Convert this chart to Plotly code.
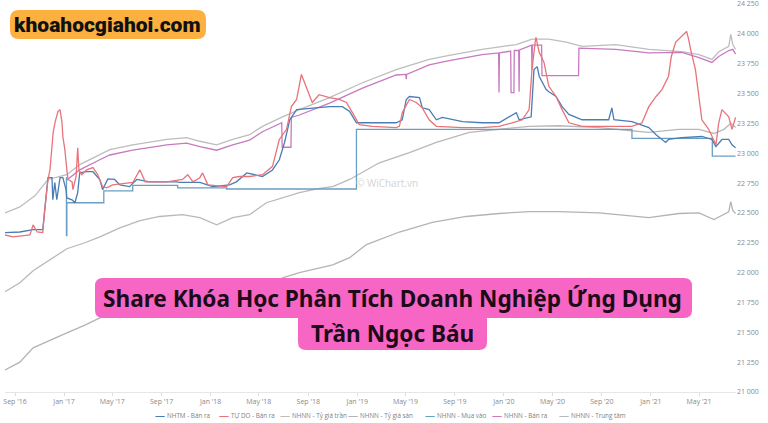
import plotly.graph_objects as go

# ---------------- data ----------------
ceil_dates = ["2016-08-07","2016-09-13","2016-10-21","2016-11-22","2016-12-22","2017-01-08","2017-02-09","2017-03-31",
              "2017-04-25","2017-06-21","2017-09-14","2017-11-02","2017-12-05","2018-01-16","2018-02-25","2018-04-08",
              "2018-05-10","2018-06-29","2018-08-10","2018-10-24","2019-01-14","2019-04-08","2019-06-29","2019-08-18",
              "2019-11-08","2020-02-01","2020-03-11","2020-04-22","2020-06-04","2020-07-14","2020-10-06","2020-12-27",
              "2021-03-19","2021-05-01","2021-06-02","2021-06-19","2021-07-14","2021-07-19","2021-07-24","2021-07-31"]
ceil_vals = [22500,22550,22645,22780,22805,22820,22905,22990,
             23030,23070,23115,23130,23100,23070,23115,23155,
             23225,23305,23365,23465,23590,23700,23785,23820,
             23870,23910,23955,23955,23930,23895,23910,23870,
             23850,23825,23785,23850,23895,23995,23910,23870]

central_dates = ["2016-08-07","2016-09-13","2016-10-16","2016-11-27","2017-01-08","2017-02-22","2017-03-31","2017-05-20",
                 "2017-07-09","2017-08-27","2017-10-23","2017-12-05","2018-01-16","2018-02-25","2018-04-08","2018-05-20",
                 "2018-07-04","2018-08-10","2018-09-29","2018-11-01","2018-12-13","2019-02-25","2019-05-11","2019-07-17",
                 "2019-10-07","2019-12-20","2020-03-04","2020-05-17","2020-08-25","2020-11-07","2020-12-27","2021-03-12",
                 "2021-05-01","2021-06-07","2021-07-02","2021-07-19","2021-07-31"]
central_vals = [21840,21915,22015,22105,22200,22250,22300,22375,
                22435,22470,22485,22460,22400,22460,22485,22585,
                22635,22670,22705,22720,22780,22920,23005,23090,
                23175,23200,23225,23230,23215,23190,23175,23200,
                23200,23165,23200,23250,23215]

floor_dates = ["2016-08-07","2016-09-13","2016-10-16","2016-11-27","2017-01-08","2017-02-22","2017-03-31","2017-05-20",
               "2017-07-09","2017-08-27","2017-10-23","2017-12-05","2018-01-16","2018-02-25","2018-04-08","2018-05-20",
               "2018-06-29","2018-08-10","2018-11-01","2018-12-13","2019-01-24","2019-04-16","2019-07-07","2019-09-29",
               "2019-12-20","2020-03-04","2020-05-17","2020-08-25","2020-11-07","2020-12-27","2021-03-12","2021-05-01",
               "2021-06-07","2021-07-02","2021-07-14","2021-07-19","2021-07-24","2021-07-31"]
floor_vals = [21185,21250,21370,21435,21495,21560,21620,21680,
              21730,21755,21770,21755,21730,21770,21815,21880,
              21955,22000,22065,22125,22235,22340,22420,22470,
              22495,22510,22510,22500,22475,22460,22495,22500,
              22445,22485,22510,22595,22520,22495]

sbv_sell_dates = ["2017-01-08","2017-02-09","2017-03-31","2017-04-25","2017-06-21","2017-09-14","2017-11-02","2017-12-05",
                  "2018-01-16","2018-02-25","2018-04-08","2018-05-10","2018-06-27","2018-06-28","2018-07-20","2018-07-21",
                  "2018-08-10","2018-10-24","2019-01-14","2019-04-08","2019-05-02","2019-05-03","2019-05-04","2019-06-29",
                  "2019-08-18","2019-11-08","2019-12-19","2019-12-20","2019-12-21","2020-01-18","2020-01-19","2020-01-26",
                  "2020-01-27","2020-02-07","2020-02-08","2020-02-09","2020-03-10","2020-03-11","2020-03-12","2020-04-04",
                  "2020-04-05","2020-07-05","2020-07-06","2020-10-06","2020-12-27","2021-03-19","2021-05-01","2021-06-02",
                  "2021-06-19","2021-07-14","2021-07-24","2021-07-31"]
sbv_sell_vals = [22775,22860,22945,22985,23025,23070,23085,23055,
                 23025,23070,23110,23180,23255,23050,23050,23300,
                 23320,23420,23545,23655,23660,23620,23660,23740,
                 23775,23825,23840,23508,23840,23855,23508,23508,
                 23860,23860,23515,23865,23905,23700,23905,23905,
                 23650,23650,23880,23870,23840,23845,23800,23760,
                 23810,23860,23870,23830]

sbv_buy_dates = ["2017-01-06","2017-01-07","2017-01-08","2017-04-10","2017-06-21","2017-10-11","2018-02-10",
                 "2018-12-30","2020-11-15","2021-06-03","2021-07-31"]
sbv_buy_vals = [22795,22310,22585,22685,22730,22710,22700,
                23200,23125,22975,22975]

bank_dates = ["2016-08-07","2016-09-13","2016-10-16","2016-11-09","2016-11-19","2016-11-22","2016-12-02","2016-12-04",
              "2016-12-09","2016-12-14","2016-12-22","2016-12-29","2017-01-06","2017-01-08","2017-01-21","2017-01-28",
              "2017-02-04","2017-02-09","2017-02-26","2017-03-14","2017-03-31","2017-04-07","2017-04-20","2017-05-07",
              "2017-05-20","2017-06-13","2017-07-01","2017-08-02","2017-10-08","2017-10-16","2017-12-05","2018-01-06",
              "2018-02-17","2018-03-06","2018-04-01","2018-05-10","2018-06-04","2018-06-21","2018-07-04","2018-07-17",
              "2018-08-03","2018-09-21","2018-10-24","2018-11-25","2018-12-13","2018-12-30","2019-01-14","2019-04-08",
              "2019-04-23","2019-05-03","2019-05-11","2019-06-05","2019-06-12","2019-06-29","2019-07-17","2019-08-01",
              "2019-09-20","2019-11-08","2019-12-20","2020-02-01","2020-02-08","2020-03-09","2020-03-16","2020-03-24",
              "2020-03-29","2020-04-15","2020-04-22","2020-05-10","2020-05-25","2020-06-11","2020-07-14","2020-09-18",
              "2020-09-26","2020-10-01","2020-11-15","2020-12-27","2021-01-14","2021-02-07","2021-02-14","2021-03-19",
              "2021-05-08","2021-06-02","2021-06-12","2021-06-27","2021-07-14","2021-07-22","2021-07-31"]
bank_vals = [22335,22340,22360,22360,22695,22795,22795,22610,
             22755,22610,22795,22795,22695,22625,22610,22585,
             22670,22835,22845,22845,22780,22695,22785,22780,
             22735,22720,22780,22760,22760,22755,22755,22720,
             22735,22760,22835,22805,22860,22945,23090,23280,
             23365,23380,23390,23390,23350,23255,23255,23255,
             23280,23450,23475,23465,23380,23365,23280,23300,
             23265,23255,23255,23340,23280,23305,23700,23725,
             23645,23535,23515,23475,23390,23325,23280,23280,
             23380,23280,23265,23215,23155,23090,23115,23130,
             23140,23115,23055,23115,23115,23070,23045]

free_dates = ["2016-08-07","2016-08-27","2016-10-08","2016-10-16","2016-10-26","2016-11-09","2016-11-14","2016-11-22",
              "2016-11-27","2016-12-05","2016-12-10","2016-12-17","2016-12-22","2016-12-27","2016-12-29","2017-01-03",
              "2017-01-08","2017-01-11","2017-01-21","2017-01-23","2017-01-31","2017-02-04","2017-02-07","2017-02-14",
              "2017-02-26","2017-03-14","2017-03-26","2017-04-07","2017-04-17","2017-05-02","2017-06-21","2017-07-09",
              "2017-07-22","2017-09-14","2017-10-23","2017-11-05","2017-11-18","2017-12-05","2017-12-12","2017-12-25",
              "2018-02-10","2018-02-25","2018-03-14","2018-04-08","2018-05-10","2018-06-04","2018-06-21","2018-07-09",
              "2018-07-21","2018-08-03","2018-08-15","2018-08-27","2018-09-11","2018-09-28","2018-10-24","2018-11-17",
              "2018-12-05","2018-12-20","2019-01-06","2019-02-07","2019-04-08","2019-04-16","2019-04-23","2019-05-11",
              "2019-05-28","2019-06-12","2019-06-29","2019-07-17","2019-09-20","2019-11-08","2019-12-20","2020-01-22",
              "2020-02-16","2020-03-04","2020-03-11","2020-03-19","2020-03-21","2020-03-29","2020-04-10","2020-04-22",
              "2020-05-10","2020-05-25","2020-06-11","2020-07-14","2020-08-25","2020-11-15","2020-12-10","2020-12-27",
              "2021-01-14","2021-01-29","2021-02-14","2021-02-21","2021-03-04","2021-03-19","2021-03-31","2021-04-05",
              "2021-04-10","2021-04-22","2021-05-08","2021-05-25","2021-06-12","2021-06-19","2021-06-27","2021-07-14",
              "2021-07-22","2021-07-31"]
free_vals = [22315,22300,22315,22400,22340,22335,22525,22780,
             22860,23175,23265,23350,23365,23255,23140,23030,
             22860,22780,22760,22695,22805,23045,22860,22820,
             22860,22880,22820,22720,22710,22735,22755,22860,
             22760,22760,22780,22820,22760,22795,22835,22735,
             22720,22795,22805,22805,22820,22890,23115,23200,
             23390,23450,23660,23560,23425,23490,23465,23450,
             23425,23340,23240,23225,23215,23225,23340,23450,
             23425,23380,23280,23225,23215,23215,23225,23255,
             23280,23365,23700,23930,23970,23845,23760,23560,
             23475,23365,23255,23225,23225,23225,23255,23390,
             23475,23535,23645,23810,23930,23980,24020,23955,
             23870,23700,23280,23200,23070,23255,23365,23305,
             23200,23300]

series_names = ["NHTM - Bán ra", "TỰ DO - Bán ra", "NHNN - Tỷ giá trần", "NHNN - Tỷ giá sàn",
                "NHNN - Mua vào", "NHNN - Bán ra", "NHNN - Trung tâm"]
series_colors = ["#4a7db3", "#e8737a", "#bdbdbd", "#b3b3b3", "#6a9ec2", "#c879c0", "#b8b8b8"]

x_tick_vals = ["2016-09-01","2017-01-01","2017-05-01","2017-09-01","2018-01-01","2018-05-01","2018-09-01","2019-01-01",
               "2019-05-01","2019-09-01","2020-01-01","2020-05-01","2020-09-01","2021-01-01","2021-05-01"]
x_tick_text = ["Sep '16","Jan '17","May '17","Sep '17","Jan '18","May '18","Sep '18","Jan '19",
               "May '19","Sep '19","Jan '20","May '20","Sep '20","Jan '21","May '21"]
y_tick_vals = [21000,21250,21500,21750,22000,22250,22500,22750,23000,23250,23500,23750,24000,24250]
y_tick_text = ["21 000","21 250","21 500","21 750","22 000","22 250","22 500","22 750","23 000","23 250",
               "23 500","23 750","24 000","24 250"]

# ---------------- layout helpers ----------------
W, H = 768, 423
ML, MR, MT, MB = 5, 32, 3, 31
PW, PH = W - ML - MR, H - MT - MB

def pxx(v):
    return (v - ML) / PW

def pxy(v):
    return (H - MB - v) / PH

def rrect(x0, y0, x1, y1, r):
    X = lambda v: v - ML
    Y = lambda v: -(v - MT)
    return (f"M {X(x0+r)},{Y(y0)} L {X(x1-r)},{Y(y0)} Q {X(x1)},{Y(y0)} {X(x1)},{Y(y0+r)} "
            f"L {X(x1)},{Y(y1-r)} Q {X(x1)},{Y(y1)} {X(x1-r)},{Y(y1)} "
            f"L {X(x0+r)},{Y(y1)} Q {X(x0)},{Y(y1)} {X(x0)},{Y(y1-r)} "
            f"L {X(x0)},{Y(y0+r)} Q {X(x0)},{Y(y0)} {X(x0+r)},{Y(y0)} Z")

def box(path, color):
    return dict(type="path", path=path, xref="paper", yref="paper", xsizemode="pixel", ysizemode="pixel",
                xanchor=0, yanchor=1, fillcolor=color, line=dict(width=0), layer="above")

def note(x, y, text, size, color, family="Open Sans", xanchor="center", weight=None):
    font = dict(family=family, size=size, color=color)
    if weight:
        font["weight"] = weight
    return dict(x=pxx(x), y=pxy(y), xref="paper", yref="paper", xanchor=xanchor, yanchor="middle",
                text=text, showarrow=False, font=font)

fig = go.Figure()
trace_data = [
    (ceil_dates, ceil_vals, 2),
    (floor_dates, floor_vals, 3),
    (central_dates, central_vals, 6),
    (sbv_buy_dates, sbv_buy_vals, 4),
    (sbv_sell_dates, sbv_sell_vals, 5),
    (bank_dates, bank_vals, 0),
    (free_dates, free_vals, 1),
]
for d, v, i in trace_data:
    fig.add_trace(go.Scatter(x=d, y=v, mode="lines", name=series_names[i],
                             line=dict(color=series_colors[i], width=1.3,
                                       shape="hv" if i == 4 else "linear"),
                             showlegend=False))

annotations = []
legend_x = [153, 217, 278, 346, 423, 490, 557]
for i, name in enumerate(series_names):
    annotations.append(note(legend_x[i], 414.5, "—", 10, series_colors[i], xanchor="left"))
    annotations.append(note(legend_x[i] + 12, 415, name, 6.3, "#808080", xanchor="left"))

annotations.append(note(387, 183, "© WiChart.vn", 10, "#d4d4d4"))
annotations.append(note(107, 25, "khoahocgiahoi.com", 21, "#111111", family="Roboto", weight=900))
annotations.append(note(392, 298, "<b>Share Khóa Học Phân Tích Doanh Nghiệp Ứng Dụng</b>", 22.6, "#1c0b18",
                        family="Noto Sans"))
annotations.append(note(392, 333, "<b>Trần Ngọc Báu</b>", 22.6, "#1c0b18", family="Noto Sans"))

shapes = [
    box(rrect(10, 10, 206, 39, 9), "#fbb040"),
    box(rrect(95, 278, 692, 318, 8), "#f766c4"),
    box(rrect(298, 312, 487, 350, 8), "#f766c4"),
]

fig.update_layout(
    width=W, height=H,
    margin=dict(l=ML, r=MR, t=MT, b=MB),
    paper_bgcolor="white", plot_bgcolor="white",
    showlegend=False,
    annotations=annotations,
    shapes=shapes,
    xaxis=dict(type="date", range=["2016-08-07", "2021-08-01"], tickvals=x_tick_vals, ticktext=x_tick_text,
               showgrid=False, zeroline=False, showline=True, linecolor="#e6e6e6", linewidth=1,
               ticks="outside", ticklen=3, tickcolor="#dddddd", automargin=False,
               tickfont=dict(family="Open Sans", size=7, color="#8a8a8a")),
    yaxis=dict(range=[21000, 24258], side="right", tickvals=y_tick_vals, ticktext=y_tick_text,
               showgrid=False, zeroline=False, showline=False, ticks="", automargin=False,
               ticklabeloverflow="allow",
               tickfont=dict(family="Open Sans", size=7, color="#8a8a8a")),
)

fig.write_html("out.html", config={"displayModeBar": False},
               post_script="document.body.style.margin='0';document.body.style.padding='0';")
